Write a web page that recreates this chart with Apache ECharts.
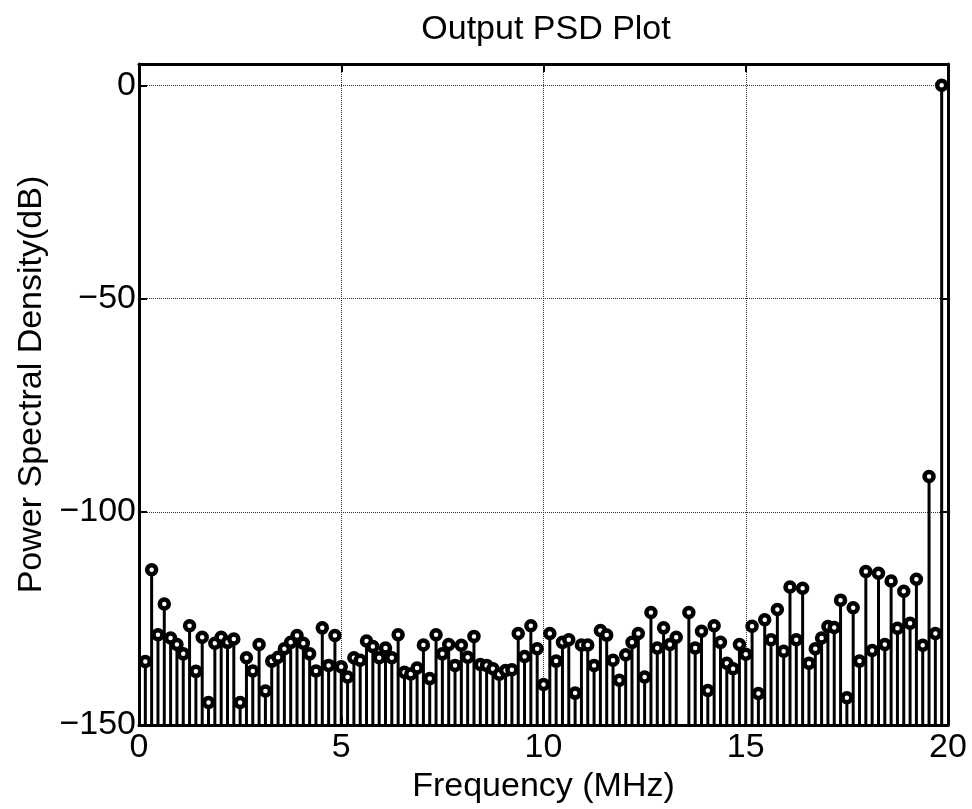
<!DOCTYPE html>
<html>
<head>
<meta charset="utf-8">
<script src="https://cdn.jsdelivr.net/npm/echarts@6/dist/echarts.min.js"></script>
<style>
  html, body { margin: 0; padding: 0; background: #fff; }
  #chart { width: 972px; height: 809px; }
</style>
</head>
<body>
<div id="chart"></div>
<script>
// FFT bin spacing (MHz) and PSD per bin, bins 1..127
var binWidth = 0.15625;
var psd = [
  -135.1, -113.6, -128.8, -121.6, -129.6, -131.1, -133.3, -126.7, -137.4, -129.4,
  -144.7, -130.8, -129.4, -130.6, -129.8, -144.7, -134.2, -137.3, -131.1, -142.0,
  -135.0, -134.1, -132.1, -130.6, -129.0, -130.8, -133.3, -137.3, -127.2, -136.0,
  -129.0, -136.3, -138.7, -134.2, -134.8, -130.3, -131.6, -134.2, -131.9, -134.2,
  -128.8, -137.6, -138.0, -136.6, -131.2, -139.1, -128.8, -133.3, -131.1, -136.0,
  -131.3, -134.1, -129.2, -135.8, -136.0, -136.8, -138.1, -137.2, -137.0, -128.5,
  -133.9, -126.7, -132.1, -140.5, -128.5, -135.0, -130.6, -130.0, -142.5, -131.2,
  -131.2, -136.0, -127.8, -128.9, -134.8, -139.5, -133.5, -130.6, -128.5, -138.7,
  -123.6, -131.9, -127.2, -131.1, -129.4, -155.0, -123.6, -131.9, -128.0, -141.9,
  -126.7, -130.6, -135.5, -136.8, -131.1, -133.4, -126.8, -142.6, -125.3, -130.0,
  -122.9, -132.7, -117.6, -130.0, -117.9, -135.5, -132.1, -129.6, -126.9, -127.1,
  -120.7, -143.6, -122.5, -135.0, -114.0, -132.5, -114.4, -131.1, -116.2, -127.3,
  -118.6, -126.1, -115.8, -131.3, -91.7, -128.5, 0.0
];
var yMin = -150;

var points = psd.map(function (v, i) { return [(i + 1) * binWidth, v]; });

var font = 'Liberation Sans, Arial, Helvetica, sans-serif';
var myChart = echarts.init(document.getElementById('chart'));

var option = {
    animation: false,
    backgroundColor: '#fff',
    title: {
        text: 'Output PSD Plot',
        left: 541,
        top: 8,
        textAlign: 'center',
        textStyle: { fontFamily: font, fontSize: 34, fontWeight: 'normal', color: '#000' }
    },
    grid: { left: 139, right: 24, top: 64, bottom: 81 },
    xAxis: [{
        type: 'value',
        min: 0, max: 20, interval: 5,
        name: 'Frequency (MHz)',
        nameLocation: 'middle',
        nameGap: 33,
        nameTextStyle: { fontFamily: font, fontSize: 34, color: '#000' },
        axisLine: { show: true, onZero: false, lineStyle: { color: '#000', width: 3 } },
        axisTick: { show: true, inside: true, length: 8, lineStyle: { color: '#000', width: 2 } },
        axisLabel: { fontFamily: font, fontSize: 34, color: '#000', margin: 6 },
        splitLine: { show: true, lineStyle: { color: '#333', type: 'dotted', width: 1 } }
    }, {
        type: 'value',
        position: 'top',
        min: 0, max: 20, interval: 5,
        axisLine: { show: true, onZero: false, lineStyle: { color: '#000', width: 3 } },
        axisTick: { show: true, inside: true, length: 8, lineStyle: { color: '#000', width: 2 } },
        axisLabel: { show: false },
        splitLine: { show: false }
    }],
    yAxis: [{
        type: 'value',
        min: yMin, max: 5, interval: 50,
        name: 'Power Spectral Density(dB)',
        nameLocation: 'middle',
        nameGap: 87,
        nameTextStyle: { fontFamily: font, fontSize: 34, color: '#000', padding: [0, 0, 0, 20] },
        axisLine: { show: true, onZero: false, lineStyle: { color: '#000', width: 3 } },
        axisTick: { show: true, inside: true, length: 8, lineStyle: { color: '#000', width: 2 } },
        axisLabel: {
            fontFamily: font, fontSize: 34, color: '#000', margin: 3,
            showMaxLabel: false,
            formatter: function (v) { return String(v).replace('-', '\u2212'); }
        },
        splitLine: { show: true, lineStyle: { color: '#333', type: 'dotted', width: 1 } }
    }, {
        type: 'value',
        position: 'right',
        min: yMin, max: 5, interval: 50,
        axisLine: { show: true, onZero: false, lineStyle: { color: '#000', width: 3 } },
        axisTick: { show: true, inside: true, length: 8, lineStyle: { color: '#000', width: 2 } },
        axisLabel: { show: false },
        splitLine: { show: false }
    }],
    series: [{
        // stems
        type: 'custom',
        clip: true,
        data: points,
        renderItem: function (params, api) {
            var tip = api.coord([api.value(0), api.value(1)]);
            var base = api.coord([api.value(0), yMin]);
            return {
                type: 'line',
                shape: { x1: base[0], y1: base[1], x2: tip[0], y2: tip[1] },
                style: { stroke: '#000', lineWidth: 3 }
            };
        }
    }, {
        // markers
        type: 'scatter',
        clip: true,
        data: points,
        symbol: 'circle',
        symbolSize: 9,
        itemStyle: { color: '#fff', borderColor: '#000', borderWidth: 4.5, opacity: 1 }
    }]
};

myChart.setOption(option);
</script>
</body>
</html>
